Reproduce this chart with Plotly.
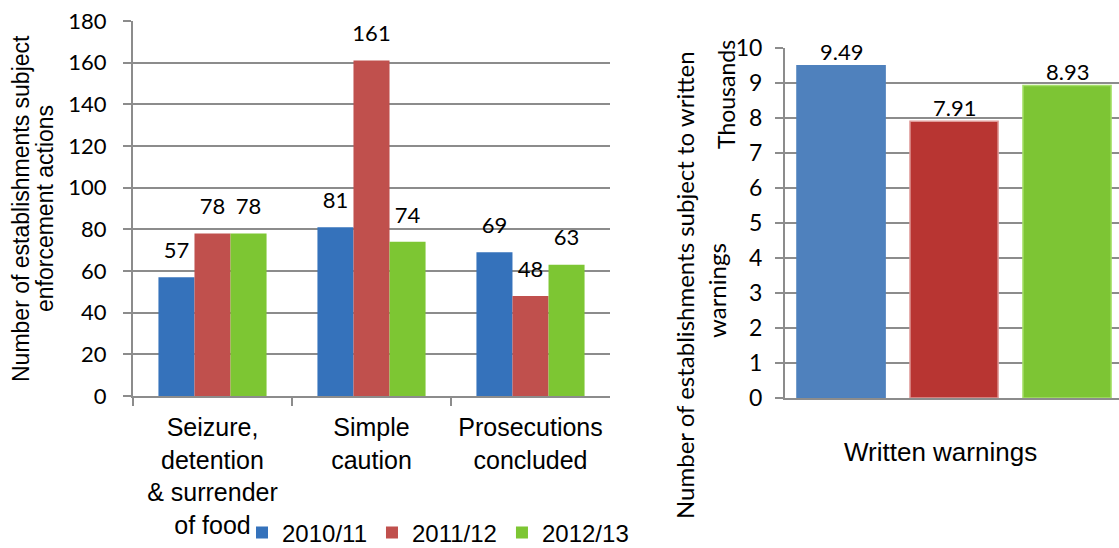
import plotly.graph_objects as go

# ---- data ----
categories = ["Seizure,<br>detention<br>& surrender<br>of food", "Simple<br>caution", "Prosecutions<br>concluded"]
years = ["2010/11", "2011/12", "2012/13"]
enf_2010_11 = [57, 81, 69]
enf_2011_12 = [78, 161, 48]
enf_2012_13 = [78, 74, 63]
written_warnings_thousands = [9.49, 7.91, 8.93]
left_ticks = [0, 20, 40, 60, 80, 100, 120, 140, 160, 180]
right_ticks = [0, 1, 2, 3, 4, 5, 6, 7, 8, 9, 10]

W, H = 1119, 548


def fx(p):
    return p / W


def fy(p):
    return 1 - p / H


GRID = "#8c8c8c"
NUMF = "Lato"
TXTF = "Liberation Sans"

left_colors = ["#3572bb", "#c0504d", "#7dc633"]
right_colors = ["#4f81bd", "#b83532", "#7dc534"]
right_lines = ["#4f81bd", "#e09a98", "#a6e06a"]

fig = go.Figure()
for name, vals, col in zip(years, [enf_2010_11, enf_2011_12, enf_2012_13], left_colors):
    fig.add_trace(go.Bar(
        x=categories, y=vals, name=name,
        marker=dict(color=col, line=dict(width=0)),
        texttemplate="<span style='font-size:22px'>%{y}</span><br>&nbsp;",
        textposition="outside", constraintext="none", cliponaxis=False,
        textfont=dict(family=NUMF, size=11, color="black"),
        xaxis="x", yaxis="y", hoverinfo="skip",
    ))

fig.add_trace(go.Bar(
    x=years, y=written_warnings_thousands, width=0.78,
    marker=dict(color=right_colors, line=dict(color=right_lines, width=1.5)),
    xaxis="x2", yaxis="y2", showlegend=False, hoverinfo="skip",
))

annotations = [
    dict(text="Number of establishments subject", x=fx(21), y=fy(209)),
    dict(text="enforcement actions", x=fx(45), y=fy(209)),
    dict(text="Number of establishments subject to written", x=fx(684), y=fy(285),
         font=dict(family=NUMF, size=24, color="black")),
    dict(text="warnings", x=fx(716), y=fy(290), font=dict(family=NUMF, size=24, color="black")),
    dict(text="Thousands", x=fx(726), y=fy(95), font=dict(family=NUMF, size=23, color="black")),
    dict(text="Written warnings", x=fx(940), y=fy(452), textangle=0,
         font=dict(family=TXTF, size=26, color="black")),
]
for a in annotations:
    a.setdefault("textangle", -90)
    a.setdefault("font", dict(family=TXTF, size=23, color="black"))
    a.update(xref="paper", yref="paper", xanchor="center", yanchor="middle", showarrow=False)

for yr, v in zip(years, written_warnings_thousands):
    annotations.append(dict(text=f"{v:.2f}", x=yr, y=v, xref="x2", yref="y2",
                            xanchor="center", yanchor="middle", yshift=14, showarrow=False,
                            font=dict(family=NUMF, size=22, color="black")))

axis_common = dict(showline=True, linecolor=GRID, linewidth=2, ticks="outside",
                   ticklen=8, tickcolor=GRID, tickwidth=2, zeroline=False, automargin=False)

fig.update_layout(
    width=W, height=H,
    margin=dict(l=0, r=0, t=0, b=0, autoexpand=False),
    paper_bgcolor="white", plot_bgcolor="white",
    barmode="group", bargap=0.32, bargroupgap=0,
    xaxis=dict(domain=[fx(133), fx(610)], anchor="y", type="category",
               tickson="boundaries", showgrid=False, ticklabelstandoff=8, tickangle=0,
               tickfont=dict(family=TXTF, size=25, color="black"), **axis_common),
    yaxis=dict(domain=[fy(396), fy(21)], anchor="x", range=[0, 180], tickvals=left_ticks,
               showgrid=True, gridcolor=GRID, gridwidth=2, ticklabelstandoff=12,
               tickfont=dict(family=NUMF, size=22, color="black"), **axis_common),
    xaxis2=dict(domain=[fx(785), 1.0], anchor="y2", type="category", showgrid=False,
                range=[-0.496, 2.46],
                showticklabels=False, showline=True, linecolor=GRID, linewidth=2,
                ticks="", zeroline=False, automargin=False),
    yaxis2=dict(domain=[fy(398), fy(48)], anchor="x2", range=[0, 10], tickvals=right_ticks,
                showgrid=True, gridcolor=GRID, gridwidth=2, ticklabelstandoff=8,
                tickfont=dict(family=NUMF, size=23, color="black"), **axis_common),
    legend=dict(orientation="h", x=fx(242), y=fy(533), xanchor="left", yanchor="middle",
                font=dict(family=TXTF, size=24, color="black"), bgcolor="rgba(0,0,0,0)",
                itemclick=False, itemdoubleclick=False),
    showlegend=True,
    annotations=annotations,
)

fig.write_html("out.html", config={"displayModeBar": False},
               post_script="document.body.style.margin='0px';")
